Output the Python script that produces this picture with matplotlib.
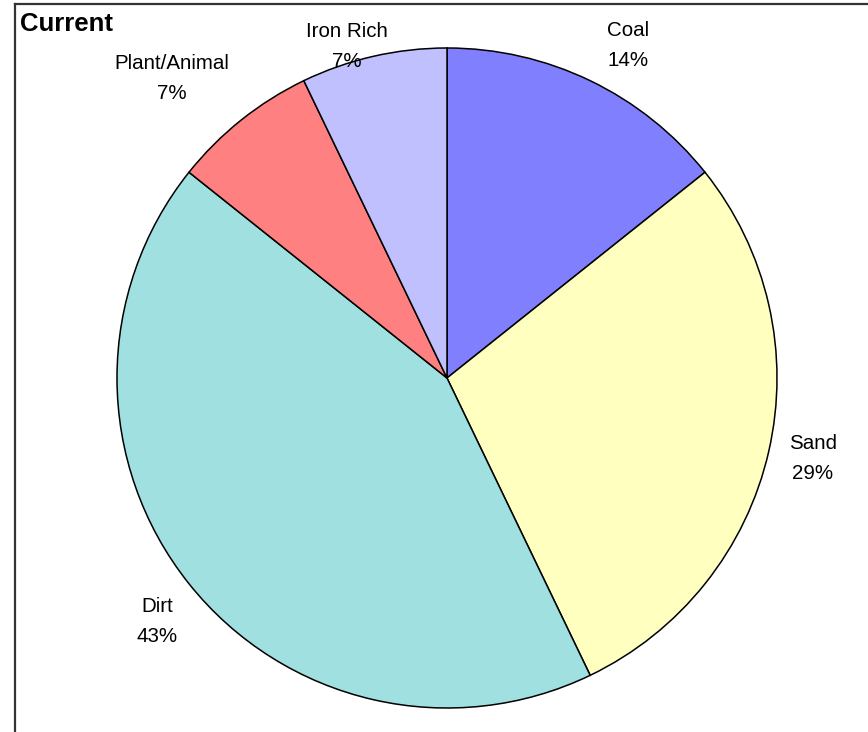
import numpy as np
import matplotlib
matplotlib.use("Agg")
import matplotlib.pyplot as plt
from matplotlib.lines import Line2D

# Composition of the current sample
categories = ["Coal", "Sand", "Dirt", "Plant/Animal", "Iron Rich"]
values = [2, 4, 6, 1, 1]
colors = ["#8080FF", "#FFFFC0", "#A0E0E0", "#FF8080", "#C0C0FF"]
# label placement: radial distance and angular nudge (degrees) from the wedge bisector
label_dist = [1.147, 1.135, 1.148, 1.234, 1.050]
label_nudge = [-2.95, 0.44, 1.43, 4.0, 4.0]

plt.rcParams["font.family"] = ["Liberation Sans", "DejaVu Sans"]

W, H = 868, 732
fig = plt.figure(figsize=(W / 100, H / 100), dpi=100)
fig.patch.set_facecolor("white")

cx, cy, r = 447, 378, 330
ax = fig.add_axes([(cx - r) / W, (H - cy - r) / H, 2 * r / W, 2 * r / H])

wedges, _ = ax.pie(values, colors=colors, startangle=90, counterclock=False,
                   radius=1.0,
                   wedgeprops=dict(edgecolor="black", linewidth=1.1))
ax.set_xlim(-1, 1)
ax.set_ylim(-1, 1)
ax.set_aspect("equal")
ax.axis("off")

total = sum(values)
for w, name, v, d, nudge in zip(wedges, categories, values, label_dist, label_nudge):
    ang = np.deg2rad((w.theta1 + w.theta2) / 2 + nudge)
    ax.text(d * np.cos(ang), d * np.sin(ang), f"{name}\n{v / total:.0%}",
            ha="center", va="center", fontsize=14.8, linespacing=1.72,
            color="black", clip_on=False)

fig.text(20 / W, 1 - 24 / H, "Current", fontsize=18.5, fontweight="bold",
         ha="left", va="center")

# Frame lines along the top and left edges
fig.add_artist(Line2D([15 / W, 1], [1 - 4 / H, 1 - 4 / H], color="#333333",
                      linewidth=1.6, transform=fig.transFigure))
fig.add_artist(Line2D([15 / W, 15 / W], [0, 1 - 4 / H], color="#333333",
                      linewidth=1.6, transform=fig.transFigure))

fig.savefig("out.png", dpi=100)
